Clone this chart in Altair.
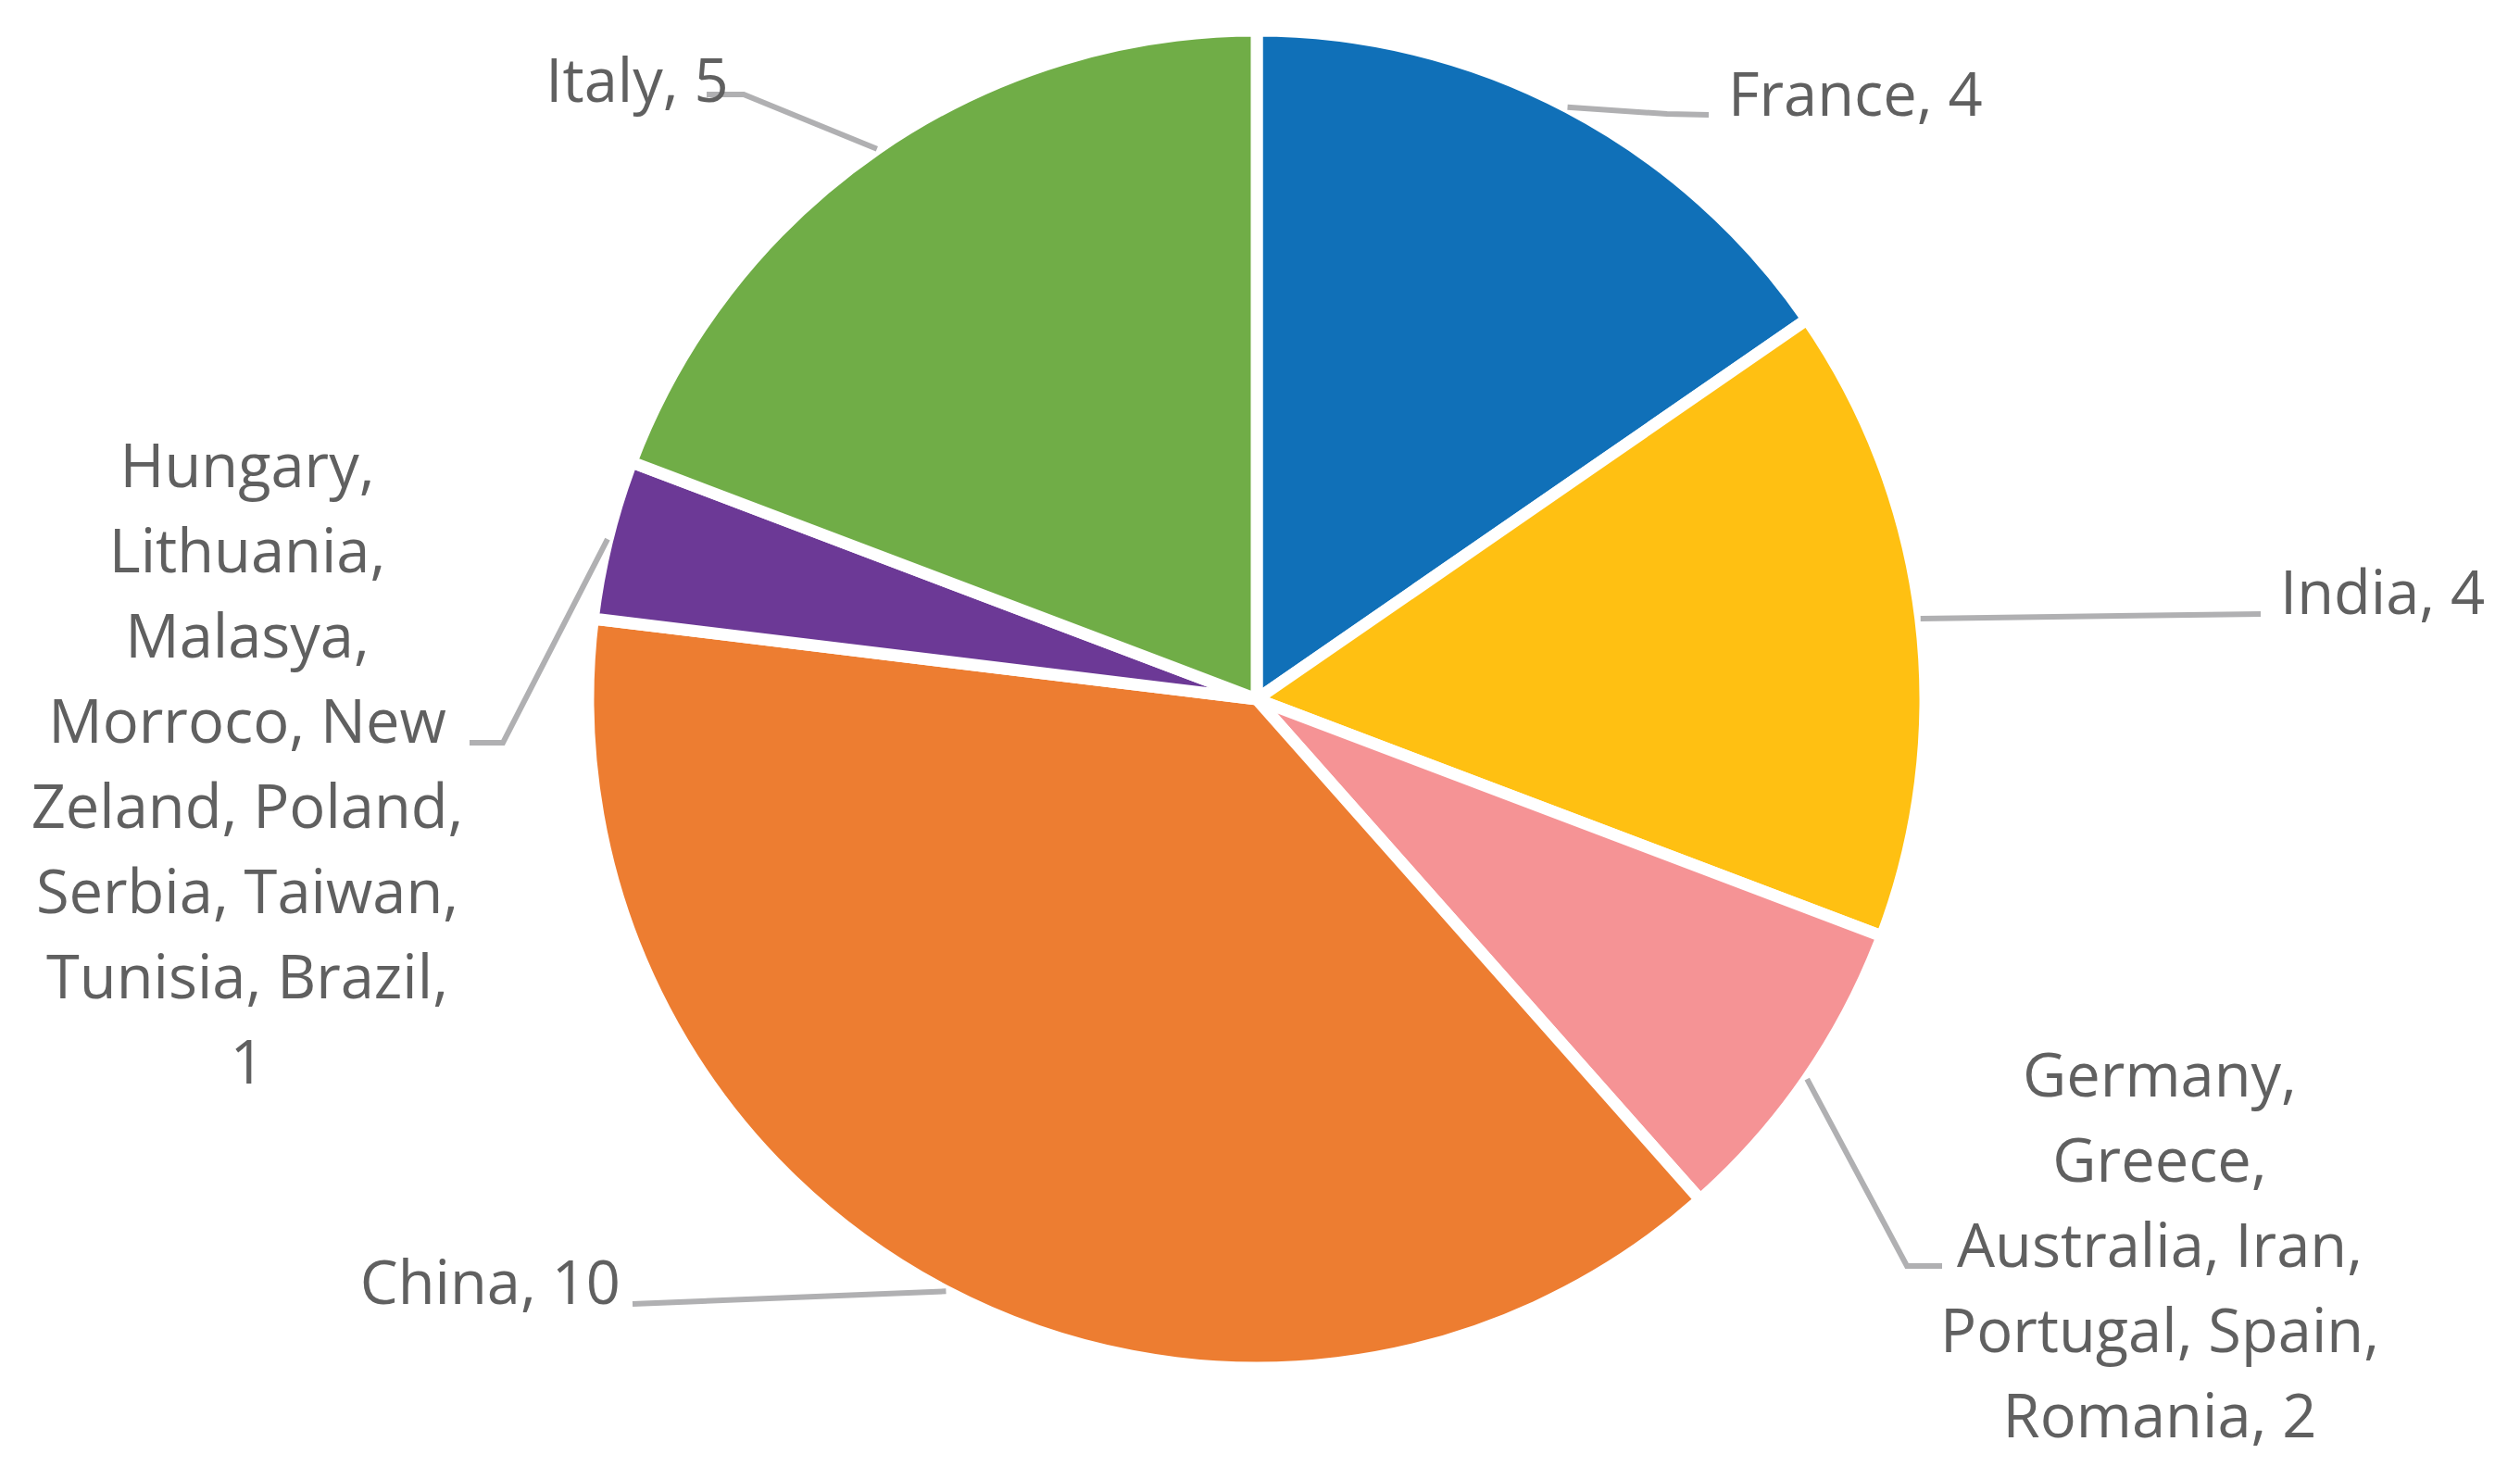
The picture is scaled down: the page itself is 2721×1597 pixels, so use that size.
import math
import altair as alt
import pandas as pd

# ---------------- data ----------------
categories = [
    "France",
    "India",
    "Germany, Greece, Australia, Iran, Portugal, Spain, Romania",
    "China",
    "Hungary, Lithuania, Malasya, Morroco, New Zeland, Poland, Serbia, Taiwan, Tunisia, Brazil",
    "Italy",
]
values = [4, 4, 2, 10, 1, 5]
label_lines = [
    ["France, 4"],
    ["India, 4"],
    ["Germany,", "Greece,", "Australia, Iran,", "Portugal, Spain,", "Romania, 2"],
    ["China, 10"],
    ["Hungary,", "Lithuania,", "Malasya,", "Morroco, New", "Zeland, Poland,",
     "Serbia, Taiwan,", "Tunisia, Brazil,", "1"],
    ["Italy, 5"],
]
colors = ["#1070B8", "#FFC012", "#F59395", "#ED7D31", "#6C3996", "#70AD47"]

# ---------------- layout (page pixels) ----------------
W, H = 2700, 1570
OFF = 8                      # page margin
CX, CY = 1357 - OFF, 755 - OFF
R = 722
TEXT_COLOR = "#606060"
LINE_COLOR = "#B0B0B2"
FONT = "Open Sans"
FONT_SIZE = 65
LINE_HEIGHT = 92

# label anchor (page px), alignment, and leader bend/end points (page px)
label_layout = [
    dict(anchor=(1866, 125), align="left", path=[(1800, 123), (1845, 124)]),
    dict(anchor=(2462, 663), align="left", path=[(2441, 663)]),
    dict(anchor=(2332, 1184), align="center", path=[(2059, 1367), (2097, 1367)]),
    dict(anchor=(670, 1408), align="right", path=[(683, 1408)]),
    dict(anchor=(267, 526), align="center", path=[(543, 802), (507, 802)]),
    dict(anchor=(688, 110), align="center", path=[(803, 102), (763, 102)]),
]

# ---------------- tables ----------------
pie_df = pd.DataFrame({
    "category": categories,
    "value": values,
    "idx": list(range(len(categories))),
})

total = sum(values)
leader_rows = []
label_rows = []
cum = 0
for i, (cat, v) in enumerate(zip(categories, values)):
    mid = (cum + v / 2) / total * 2 * math.pi
    cum += v
    sx = CX + R * math.sin(mid)
    sy = CY - R * math.cos(mid)
    pts = [(sx, sy)] + [(px - OFF, py - OFF) for px, py in label_layout[i]["path"]]
    for k, (px, py) in enumerate(pts):
        leader_rows.append({"category": cat, "pt": k, "x": px, "y": py})
    ax, ay = label_layout[i]["anchor"]
    label_rows.append({
        "category": cat,
        "lines": label_lines[i],
        "x": ax - OFF,
        "y": ay - OFF,
        "align": label_layout[i]["align"],
    })

leader_df = pd.DataFrame(leader_rows)
label_df = pd.DataFrame(label_rows)

x_scale = alt.Scale(domain=[0, W], nice=False, zero=False)
y_scale = alt.Scale(domain=[0, H], nice=False, zero=False, reverse=True)

pie = alt.Chart(pie_df).mark_arc(
    outerRadius=R, stroke="white", strokeWidth=13, strokeJoin="round"
).encode(
    theta=alt.Theta("value:Q", stack=True),
    color=alt.Color("category:N",
                    scale=alt.Scale(domain=categories, range=colors),
                    legend=None),
    order=alt.Order("idx:Q"),
    x=alt.value(CX),
    y=alt.value(CY),
)

leaders = alt.Chart(leader_df).mark_line(
    color=LINE_COLOR, strokeWidth=6, strokeJoin="miter"
).encode(
    x=alt.X("x:Q", scale=x_scale, axis=None),
    y=alt.Y("y:Q", scale=y_scale, axis=None),
    detail="category:N",
    order=alt.Order("pt:Q"),
)


def text_layer(align):
    return alt.Chart(label_df).transform_filter(
        alt.datum.align == align
    ).mark_text(
        align=align, baseline="alphabetic", font=FONT, fontSize=FONT_SIZE,
        lineHeight=LINE_HEIGHT, color=TEXT_COLOR,
    ).encode(
        x=alt.X("x:Q", scale=x_scale, axis=None),
        y=alt.Y("y:Q", scale=y_scale, axis=None),
        text=alt.Text("lines:N"),
    )


chart = alt.layer(
    pie, leaders, text_layer("left"), text_layer("center"), text_layer("right")
).properties(
    width=W, height=H, padding=0,
    autosize=alt.AutoSizeParams(type="none"),
    background="white",
).configure_view(stroke="transparent")

chart.save("out.html", embed_options={"renderer": "svg", "actions": False})
